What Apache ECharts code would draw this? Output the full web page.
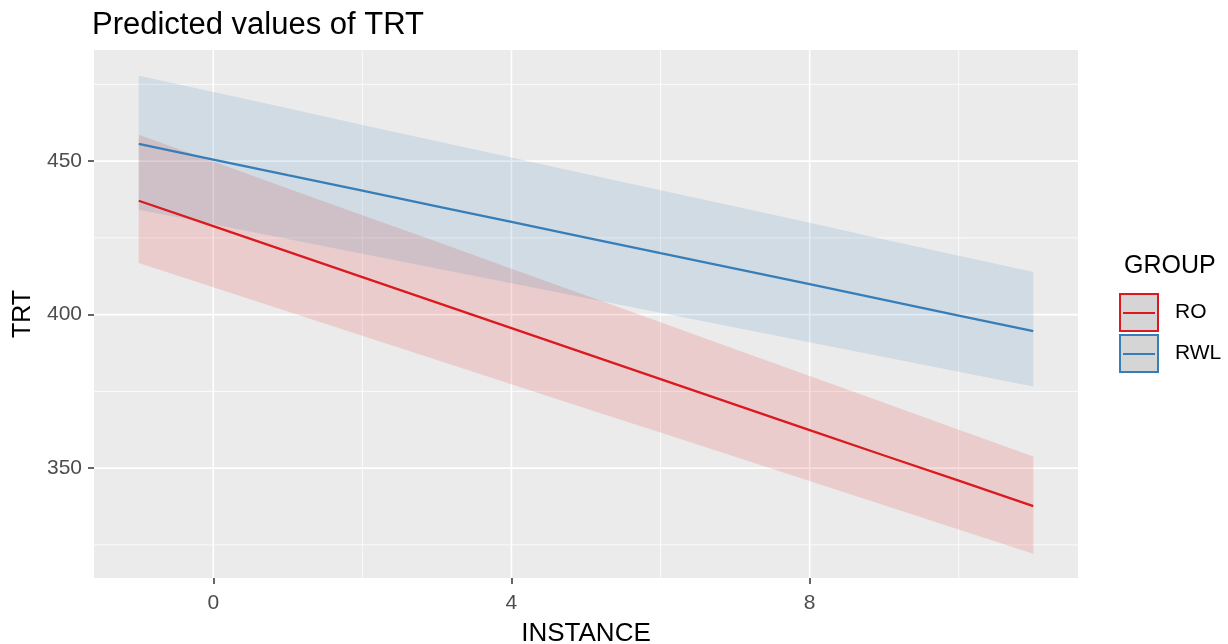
<!DOCTYPE html>
<html>
<head>
<meta charset="utf-8">
<script src="https://cdn.jsdelivr.net/npm/echarts@6/dist/echarts.min.js"></script>
<style>
  html, body { margin: 0; padding: 0; background: #ffffff; }
  #chart { width: 1228px; height: 644px; }
</style>
</head>
<body>
<div id="chart"></div>
<script>
// Predicted TRT by INSTANCE for each GROUP, with confidence bands
const instance = [-1, 0, 1, 2, 3, 4, 5, 6, 7, 8, 9, 10, 11];

const roFit  = [437.1, 428.8, 420.5, 412.2, 403.9, 395.6, 387.3, 379.0, 370.7, 362.4, 354.1, 345.9, 337.6];
const roLow  = [416.8, 408.9, 401.0, 393.1, 385.2, 377.3, 369.4, 361.6, 353.7, 345.8, 337.9, 330.0, 322.1];
const roHigh = [458.6, 449.9, 441.1, 432.4, 423.7, 414.9, 406.2, 397.5, 388.7, 380.0, 371.3, 362.5, 353.8];

const rwlFit  = [455.6, 450.5, 445.4, 440.4, 435.3, 430.2, 425.1, 420.0, 415.0, 409.9, 404.8, 399.7, 394.6];
const rwlLow  = [434.2, 429.4, 424.6, 419.8, 415.0, 410.2, 405.4, 400.6, 395.8, 391.0, 386.2, 381.4, 376.6];
const rwlHigh = [477.8, 472.5, 467.2, 461.8, 456.5, 451.2, 445.8, 440.5, 435.2, 429.9, 424.5, 419.2, 413.9];

const groups = ['RO', 'RWL'];
const groupColors = ['#DA1A1F', '#377EB8'];
const bandFills = ['rgba(228,26,28,0.15)', 'rgba(55,126,184,0.15)'];

const xTicks = [0, 4, 8];
const xMinorTicks = [2, 6, 10];
const yTicks = [350, 400, 450];
const yMinorTicks = [325, 375, 425, 475];

const FONT = '"Liberation Sans", Arial, sans-serif';

const chart = echarts.init(document.getElementById('chart'), null, { renderer: 'canvas' });

// White panel grid lines (minor thinner), drawn beneath the bands
function gridSeries() {
  return {
    type: 'custom',
    silent: true,
    z: 1,
    data: [[0, 400]],
    renderItem(params, api) {
      const cs = params.coordSys;
      const children = [];
      const vline = (v, w) => {
        const p = api.coord([v, 400]);
        children.push({ type: 'line', shape: { x1: p[0], y1: cs.y, x2: p[0], y2: cs.y + cs.height },
          style: { stroke: '#ffffff', lineWidth: w } });
      };
      const hline = (v, w) => {
        const p = api.coord([0, v]);
        children.push({ type: 'line', shape: { x1: cs.x, y1: p[1], x2: cs.x + cs.width, y2: p[1] },
          style: { stroke: '#ffffff', lineWidth: w } });
      };
      xMinorTicks.forEach(v => vline(v, 0.8));
      yMinorTicks.forEach(v => hline(v, 0.8));
      xTicks.forEach(v => vline(v, 1.6));
      yTicks.forEach(v => hline(v, 1.6));
      return { type: 'group', children };
    }
  };
}

// Confidence band drawn as a single polygon
function bandSeries(name, low, high, fill) {
  return {
    type: 'custom',
    name,
    silent: true,
    z: 2,
    data: instance.map((x, i) => [x, low[i], high[i]]),
    encode: { x: 0, y: [1, 2] },
    renderItem(params, api) {
      if (params.dataIndex !== 0) return null;
      const upper = instance.map((x, i) => api.coord([x, high[i]]));
      const lower = instance.map((x, i) => api.coord([x, low[i]])).reverse();
      return { type: 'polygon', shape: { points: upper.concat(lower) }, style: { fill } };
    }
  };
}

function lineSeries(name, fit, color) {
  return {
    type: 'line',
    name,
    z: 3,
    silent: true,
    showSymbol: false,
    data: instance.map((x, i) => [x, fit[i]]),
    lineStyle: { color, width: 2.3 },
    itemStyle: { color }
  };
}

// Legend keys: grey box with coloured outline and a line through the middle
const legendGraphic = [{
  type: 'text', left: 1124, top: 254,
  style: { text: 'GROUP', font: '25px ' + FONT, fill: '#000000' }
}];
groups.forEach((g, i) => {
  const top = 294 + i * 41;
  legendGraphic.push({
    type: 'rect', shape: { x: 1120, y: top, width: 38, height: 37 },
    style: { fill: '#D5D5D5', stroke: groupColors[i], lineWidth: 2 }
  });
  legendGraphic.push({
    type: 'line', shape: { x1: 1123, y1: top + 19, x2: 1155, y2: top + 19 },
    style: { stroke: groupColors[i], lineWidth: 2 }
  });
  legendGraphic.push({
    type: 'text', left: 1175, top: top + 8,
    style: { text: g, font: '21px ' + FONT, fill: '#000000' }
  });
});

const hiddenAxisLine = { show: true, onZero: false, lineStyle: { color: 'rgba(0,0,0,0)', width: 0 } };

chart.setOption({
  animation: false,
  backgroundColor: '#ffffff',
  title: {
    text: 'Predicted values of TRT',
    left: 92, top: 10, padding: 0,
    textStyle: { fontFamily: FONT, fontSize: 31, fontWeight: 'normal', color: '#000000' }
  },
  grid: {
    left: 94, right: 150, top: 50, bottom: 66,
    outerBoundsMode: 'none',
    containLabel: false,
    show: true, backgroundColor: '#EBEBEB', borderWidth: 0
  },
  xAxis: {
    type: 'value',
    min: -1.6, max: 11.6,
    name: 'INSTANCE',
    nameLocation: 'middle',
    nameGap: 43,
    nameTextStyle: { fontFamily: FONT, fontSize: 26, color: '#000000' },
    axisLine: hiddenAxisLine,
    splitLine: { show: false },
    axisTick: { show: true, customValues: xTicks, length: 6, lineStyle: { color: '#333333', width: 1.5 } },
    axisLabel: { customValues: xTicks, fontFamily: FONT, fontSize: 21, color: '#4D4D4D', margin: 15 }
  },
  yAxis: {
    type: 'value',
    min: 314.2, max: 486.2,
    name: 'TRT',
    nameLocation: 'middle',
    nameGap: 52,
    nameRotate: 90,
    nameTextStyle: { fontFamily: FONT, fontSize: 25, color: '#000000' },
    axisLine: hiddenAxisLine,
    splitLine: { show: false },
    axisTick: { show: true, customValues: yTicks, length: 6, lineStyle: { color: '#333333', width: 1.5 } },
    axisLabel: { customValues: yTicks, fontFamily: FONT, fontSize: 21, color: '#4D4D4D', margin: 12 }
  },
  graphic: legendGraphic,
  series: [
    gridSeries(),
    bandSeries('RO band', roLow, roHigh, bandFills[0]),
    bandSeries('RWL band', rwlLow, rwlHigh, bandFills[1]),
    lineSeries(groups[0], roFit, groupColors[0]),
    lineSeries(groups[1], rwlFit, groupColors[1])
  ]
});
</script>
</body>
</html>
